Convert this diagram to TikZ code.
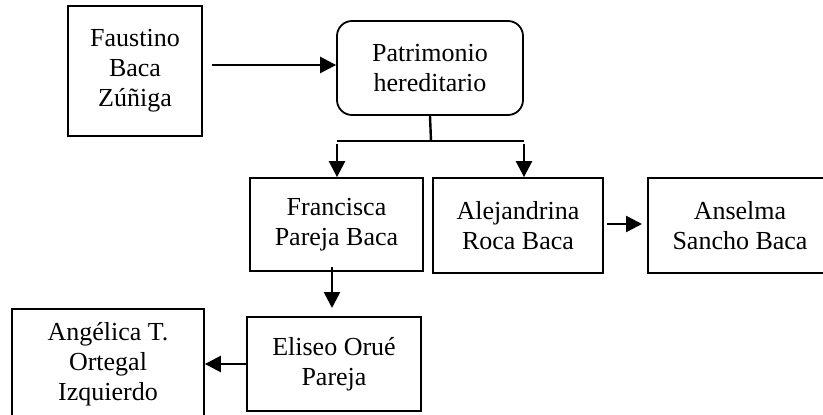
\documentclass[tikz,border=0pt]{standalone}
\usepackage{fontspec}
\setmainfont{Liberation Serif}
\usetikzlibrary{arrows.meta}
\begin{document}
\begin{tikzpicture}[x=1pt,y=-1pt,
  box/.style={draw,line width=1.8pt,rectangle,inner sep=0pt,align=center,
    font=\fontsize{26}{30}\selectfont},
  rbox/.style={box,rounded corners=15pt},
  arr/.style={line width=2.6pt,-{Triangle[length=16pt,width=16pt]}},
  ln/.style={line width=2.4pt}]
\useasboundingbox (0,0) rectangle (823,415);
\node[box,minimum width=134pt,minimum height=130pt] (fau) at (135,71) {Faustino\\Baca\\Zúñiga};
\node[rbox,minimum width=186pt,minimum height=94pt] (pat) at (430,68) {Patrimonio\\hereditario};
\node[box,minimum width=173pt,minimum height=93pt] (fra) at (336.5,224.5) {Francisca\\Pareja Baca};
\node[box,minimum width=170pt,minimum height=95pt] (ale) at (518,225.5) {Alejandrina\\Roca Baca};
\node[box,minimum width=184pt,minimum height=95pt] (ans) at (740,225.5) {Anselma\\Sancho Baca};
\node[box,minimum width=174pt,minimum height=94pt] (eli) at (334,364) {Eliseo Orué\\Pareja};
\node[box,minimum width=192pt,minimum height=110pt] (ang) at (108,364) {Angélica T.\\Ortegal\\Izquierdo};
% connectors
\coordinate (a1) at (212,65);
\draw[arr] (a1) -- (a1 -| pat.west);
\coordinate (bar) at (431,141);
\coordinate (barL) at (337,141);
\coordinate (barR) at (524,141);
\draw[ln] (pat.south) -- (bar);
\draw[ln] (barL) -- (barR);
\draw[arr] ([yshift=-3pt]barL) -- (barL |- fra.north);
\draw[arr] ([yshift=-3pt]barR) -- (barR |- ale.north);
\coordinate (fe1) at (332,267);
\coordinate (fe2) at (332,308);
\draw[arr] (fe1) -- (fe2);
\coordinate (aa1) at (607,224);
\coordinate (aa2) at (642,224);
\draw[arr] (aa1) -- (aa2);
\draw[arr] (eli.west) -- (eli.west -| ang.east);
\end{tikzpicture}
\end{document}
